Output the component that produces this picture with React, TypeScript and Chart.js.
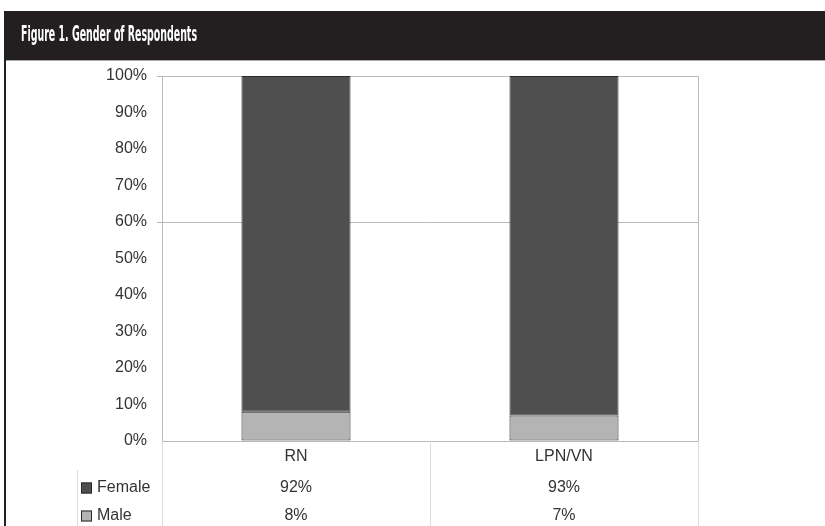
import { useEffect, useRef } from "react";
import { Chart, registerables } from "chart.js";

Chart.register(...registerables);

// Survey results: share of respondents by gender, per licence type
const categories = ["RN", "LPN/VN"];
const femaleShare = [92, 93];
const maleShare = [8, 7];
const seriesNames = ["Female", "Male"];
const title = "Figure 1. Gender of Respondents";

const FONT = "'Liberation Sans', Arial, sans-serif";
const TEXT = "#333333";
const FEMALE_FILL = "#4f4f4f";
const MALE_FILL = "#b4b4b4";
const BAR_EDGE = "#2a2a2a";

const framePlugin = {
  id: "frame",
  beforeDraw(chart: any) {
    const { ctx, width, height, chartArea: a } = chart;
    ctx.save();
    ctx.fillStyle = "#ffffff";
    ctx.fillRect(0, 0, width, height);

    // header band + rule underneath
    ctx.fillStyle = "#231f20";
    ctx.fillRect(5, 11, width - 5, 49);
    ctx.fillStyle = "#a7a9ac";
    ctx.fillRect(5, 60, width - 5, 1);
    // left edge rule of the figure
    ctx.fillStyle = "#231f20";
    ctx.fillRect(4, 11, 2, height - 11);

    // title in a condensed bold face
    ctx.font = "bold 21px 'Liberation Sans Narrow', 'DejaVu Sans Condensed', sans-serif";
    const w = ctx.measureText(title).width;
    ctx.translate(21, 36);
    ctx.scale(176 / w, 1);
    ctx.fillStyle = "#ffffff";
    ctx.textBaseline = "middle";
    ctx.textAlign = "left";
    ctx.fillText(title, 0, 0);
    ctx.restore();

    // plot frame
    ctx.save();
    ctx.strokeStyle = "#b9b9b9";
    ctx.lineWidth = 1;
    ctx.beginPath();
    ctx.moveTo(Math.round(a.left) + 0.5, Math.round(a.top) + 0.5);
    ctx.lineTo(Math.round(a.right) + 0.5, Math.round(a.top) + 0.5);
    ctx.lineTo(Math.round(a.right) + 0.5, Math.round(a.bottom) + 0.5);
    ctx.lineTo(Math.round(a.left) + 0.5, Math.round(a.bottom) + 0.5);
    ctx.closePath();
    ctx.stroke();
    ctx.restore();
  },
  afterDraw(chart: any) {
    const { ctx, height, chartArea: a } = chart;
    const xs = chart.scales.x;
    const px = categories.map((_, i) => xs.getPixelForValue(i));
    const mid = (px[0] + px[1]) / 2;
    ctx.save();

    // data-table grid lines
    ctx.strokeStyle = "#dcdcdc";
    ctx.lineWidth = 1;
    const bottom = Math.round(a.bottom) + 0.5;
    const vline = (x: number, y0: number) => {
      ctx.beginPath();
      ctx.moveTo(Math.round(x) + 0.5, y0);
      ctx.lineTo(Math.round(x) + 0.5, height);
      ctx.stroke();
    };
    vline(77, 470);
    vline(a.left, bottom);
    vline(mid, bottom);
    vline(a.right, bottom);

    // category labels and values
    ctx.fillStyle = TEXT;
    ctx.font = `16px ${FONT}`;
    ctx.textAlign = "center";
    ctx.textBaseline = "middle";
    const rows = [femaleShare, maleShare];
    categories.forEach((c, i) => {
      ctx.fillText(c, px[i], 457);
      ctx.fillText(`${rows[0][i]}%`, px[i], 488);
      ctx.fillText(`${rows[1][i]}%`, px[i], 516);
    });

    // legend keys
    const keyFills = [FEMALE_FILL, MALE_FILL];
    const rowY = [488, 516];
    ctx.textAlign = "left";
    seriesNames.forEach((name, r) => {
      const y = rowY[r];
      ctx.fillStyle = keyFills[r];
      ctx.fillRect(81, y - 5.5, 11, 11);
      ctx.strokeStyle = BAR_EDGE;
      ctx.strokeRect(81.5, y - 5, 10, 10);
      ctx.fillStyle = TEXT;
      ctx.fillText(name, 97, y);
    });
    ctx.restore();
  },
};

export default function App() {
  const ref = useRef<HTMLCanvasElement | null>(null);

  useEffect(() => {
    if (!ref.current) return;
    const guide = (v: number) => (v === 60 || v === 100 ? "#b9b9b9" : "rgba(0,0,0,0)");
    const chart = new Chart(ref.current, {
      type: "bar",
      data: {
        labels: categories,
        datasets: [
          {
            label: seriesNames[1],
            data: maleShare,
            backgroundColor: MALE_FILL,
            borderColor: BAR_EDGE,
            borderWidth: 1,
            borderSkipped: false,
            barPercentage: 0.407,
            categoryPercentage: 1,
          },
          {
            label: seriesNames[0],
            data: femaleShare,
            backgroundColor: FEMALE_FILL,
            borderColor: BAR_EDGE,
            borderWidth: 1,
            borderSkipped: false,
            barPercentage: 0.407,
            categoryPercentage: 1,
          },
        ],
      },
      options: {
        animation: false,
        responsive: true,
        maintainAspectRatio: false,
        layout: { padding: { top: 76, right: 127, bottom: 85, left: 0 } },
        plugins: {
          legend: { display: false },
          tooltip: { enabled: false },
          title: { display: false },
        },
        scales: {
          x: {
            display: false,
            stacked: true,
          },
          y: {
            stacked: true,
            min: 0,
            max: 100,
            afterFit: (s: any) => {
              s.width = 162;
            },
            border: { display: true, color: "#b9b9b9" },
            grid: {
              color: (c: any) => guide(c.tick?.value),
              tickColor: (c: any) => guide(c.tick?.value),
              tickLength: 5,
            },
            ticks: {
              stepSize: 10,
              padding: 10,
              color: TEXT,
              font: { family: FONT, size: 16 },
              callback: (v: any) => `${v}%`,
            },
          },
        },
      },
      plugins: [framePlugin],
    });
    return () => chart.destroy();
  }, []);

  return (
    <div style={{ position: "absolute", left: 0, top: 0, width: 825, height: 526 }}>
      <canvas ref={ref} />
    </div>
  );
}
